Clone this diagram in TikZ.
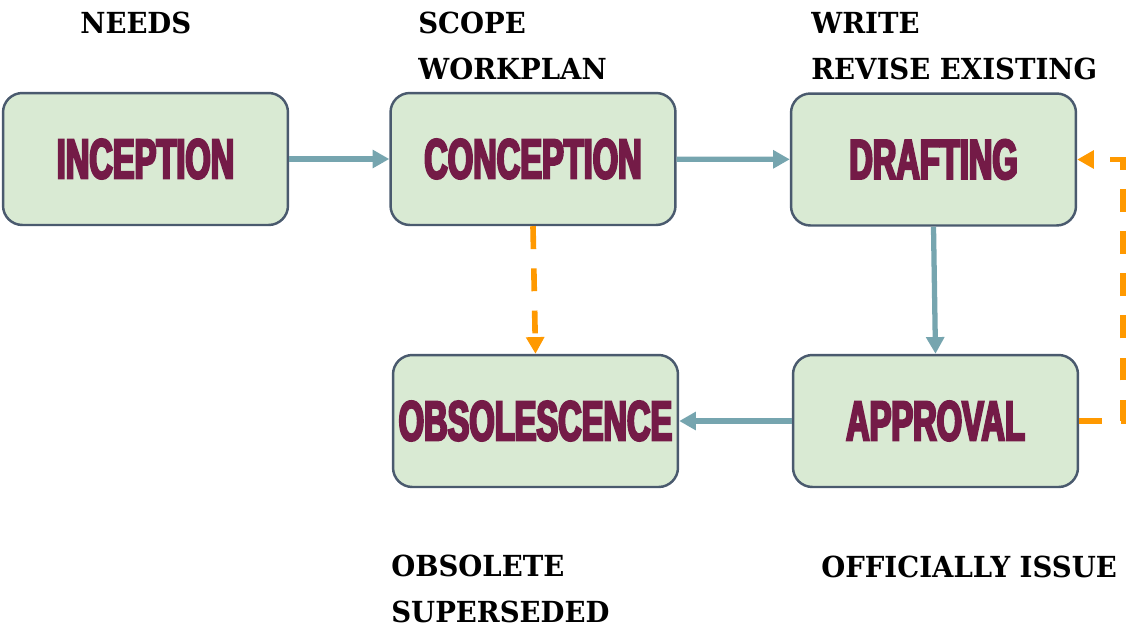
\documentclass[tikz,border=0pt]{standalone}
\usepackage{fontspec}
\usepackage{tikz}
\usetikzlibrary{arrows.meta}
\setmainfont{DejaVu Serif}
\newfontfamily\labelfont[FakeStretch=0.95]{DejaVu Serif}
\newfontfamily\boxfont[FakeStretch=0.58,FakeBold=4]{Liberation Sans}
\definecolor{boxfill}{HTML}{D9EAD3}
\definecolor{boxline}{HTML}{4A5A6E}
\definecolor{phasetext}{HTML}{741B47}
\definecolor{flowcol}{HTML}{76A5AF}
\definecolor{backcol}{HTML}{FF9900}

\begin{document}
\begin{tikzpicture}[x=0.02cm,y=-0.02cm]
\tikzstyle{every node}+=[inner sep=0pt]
\tikzstyle{phase}=[draw=boxline, fill=boxfill, line width=1.4pt, rounded corners=11pt, minimum width=5.7cm, minimum height=2.64cm, text=phasetext, font=\boxfont\bfseries\fontsize{32}{32}\selectfont]
\tikzstyle{flow}=[draw=flowcol, line width=3pt, -{Triangle[length=9.5pt,width=10pt]}]
\tikzstyle{dashback}=[draw=backcol, line width=3.2pt, dash pattern=on 13pt off 11pt, -{Triangle[length=9.5pt,width=10pt]}]
\tikzstyle{note}=[anchor=base west, align=left, font=\labelfont\bfseries\fontsize{16.5}{26}\selectfont]
\useasboundingbox (0,0) rectangle (1127,630);
% phases
\node [phase] (inception) at (145.5,159) {INCEPTION};
\node [phase] (conception) at (533,159) {CONCEPTION};
\node [phase] (drafting) at (933.5,159.5) {DRAFTING};
\node [phase] (obsolescence) at (535.5,421) {OBSOLESCENCE};
\node [phase] (approval) at (935.5,421) {APPROVAL};
% notes
\node [note] (needs) at (80,33) {NEEDS};
\node [note] (scope) at (418,79) {SCOPE\\WORKPLAN};
\node [note] (write) at (811,79) {WRITE\\REVISE EXISTING};
\node [note] (obsolete) at (391,622) {OBSOLETE\\SUPERSEDED};
\node [note] (issue) at (821,577) {OFFICIALLY ISSUE};
% arrows
\draw [flow] (inception) -- (conception);
\draw [flow] (conception) -- (drafting);
\draw [flow] (drafting.south) -- (approval.north);
\draw [flow] (approval) -- (obsolescence);
\draw [dashback] (conception.south) -- (obsolescence.north);
\coordinate (rework) at (1123,290);
\draw [dashback] (approval.east) -| (rework) |- (drafting.east);
\end{tikzpicture}
\end{document}
